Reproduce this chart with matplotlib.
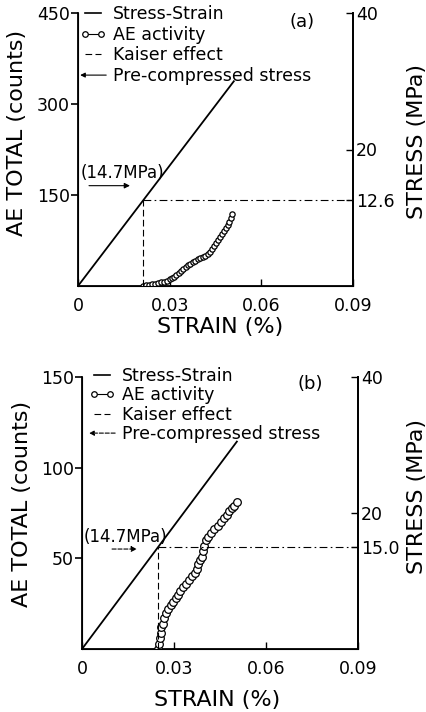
import matplotlib
matplotlib.use("Agg")
import matplotlib.pyplot as plt
from matplotlib.lines import Line2D
from matplotlib.patches import FancyArrowPatch
from matplotlib.legend_handler import HandlerBase

# ---- data ----
STRAIN_TICKS = [0, 0.03, 0.06, 0.09]
STRAIN_TICKLABELS = ["0", "0.03", "0.06", "0.09"]

# panel (a)
A_LINE_STRAIN = [0.0, 0.051]
A_LINE_STRESS = [0.0, 30.0]
A_KAISER_STRAIN = 0.0214
A_KAISER_STRESS = 12.6
A_PRE_STRESS = 14.7
A_AE_STRAIN = [0.0213, 0.0222, 0.0232, 0.0242, 0.0252, 0.0262, 0.0272, 0.0282,
               0.0292, 0.0300, 0.0308, 0.0315, 0.0322, 0.0330, 0.0338, 0.0345,
               0.0352, 0.0360, 0.0368, 0.0376, 0.0384, 0.0392, 0.0400, 0.0408,
               0.0416, 0.0424, 0.0432, 0.0438, 0.0444, 0.0451, 0.0458, 0.0465,
               0.0472, 0.0478, 0.0484, 0.0490, 0.0495, 0.0500, 0.0505]
A_AE_COUNTS = [0, 1, 2, 3, 4, 5, 6, 7,
               9, 11, 13, 15, 18, 21, 25, 28,
               31, 34, 37, 40, 42, 44, 46, 48,
               50, 52, 56, 61, 66, 71, 76, 80,
               85, 90, 95, 100, 106, 112, 118]
A_LEFT_TICKS = [150, 300, 450]
A_RIGHT_TICKS = [12.6, 20, 40]
A_RIGHT_TICKLABELS = ["12.6", "20", "40"]

# panel (b)
B_LINE_STRAIN = [0.0, 0.0505]
B_LINE_STRESS = [0.0, 30.5]
B_KAISER_STRAIN = 0.0248
B_KAISER_STRESS = 15.0
B_PRE_STRESS = 14.7
B_AE_STRAIN = [0.0249, 0.0251, 0.0253, 0.0256, 0.0259, 0.0263, 0.0268, 0.0274,
               0.0282, 0.0290, 0.0298, 0.0305, 0.0312, 0.0320, 0.0330, 0.0340,
               0.0350, 0.0360, 0.0368, 0.0374, 0.0379, 0.0384, 0.0390, 0.0395,
               0.0399, 0.0404, 0.0412, 0.0422, 0.0432, 0.0442, 0.0452, 0.0462,
               0.0472, 0.0480, 0.0488, 0.0496, 0.0504]
B_AE_COUNTS = [0, 3, 6, 9, 12, 14, 17, 20,
               22, 24, 26, 28, 30, 32, 34, 36,
               38, 40, 42, 44, 47, 49, 51, 54,
               57, 60, 62, 64, 66, 68, 70, 72,
               74, 76, 78, 79, 81]
B_LEFT_TICKS = [50, 100, 150]
B_RIGHT_TICKS = [15.0, 20, 40]
B_RIGHT_TICKLABELS = ["15.0", "20", "40"]

plt.rcParams["font.family"] = ["DejaVu Sans"]
KDASH = (0, (6, 3))
KDASHDOT = (0, (7, 3, 1.5, 3))


class HandlerArrow(HandlerBase):
    """legend 里画一个向左的细箭头"""

    def create_artists(self, legend, orig_handle, xdescent, ydescent,
                       width, height, fontsize, trans):
        y = height / 2 - ydescent
        arr = FancyArrowPatch((width - xdescent, y), (-xdescent, y),
                              arrowstyle="-|>", mutation_scale=7, lw=0.8,
                              color="black", linestyle=orig_handle.get_linestyle(),
                              shrinkA=0, shrinkB=0, transform=trans)
        return [arr]


def panel(rect, tag, ymax, left_ticks, line_x, line_y, k_x, k_y, pre_y,
          ae_x, ae_y, right_ticks, right_labels, msize, pre_text,
          text_xy, arrow_x, ylab_pos, rlab_pos, xlab_pos, arrow_ls, leg_xy, leg_sp):
    ax = fig.add_axes(rect)
    ax.set_xlim(0, 0.09)
    ax.set_ylim(0, ymax)
    ax.spines["top"].set_visible(False)
    for s in ("left", "bottom", "right"):
        ax.spines[s].set_linewidth(1.3)
    ax.set_xticks(STRAIN_TICKS)
    ax.set_xticklabels(STRAIN_TICKLABELS, fontsize=12.5)
    ax.set_yticks(left_ticks)
    ax.tick_params(axis="y", direction="out", length=5, width=1.2, labelsize=12.5, pad=1)
    ax.tick_params(axis="x", direction="in", length=5, width=1.0, pad=8)
    ax.plot(ae_x, ae_y, "-o", color="black", lw=0.8, ms=msize, mfc="white",
            mec="black", mew=0.9, zorder=4)

    tw = ax.twinx()
    tw.set_ylim(0, 40)
    tw.spines["top"].set_visible(False)
    tw.spines["right"].set_linewidth(1.3)
    tw.set_yticks(right_ticks)
    tw.set_yticklabels(right_labels, fontsize=12.5)
    tw.tick_params(axis="y", direction="in", length=5, width=1.0, pad=2)
    tw.plot(line_x, line_y, color="black", lw=1.3)
    tw.plot([k_x, k_x], [0, k_y], color="black", lw=0.8, ls=KDASH)
    tw.plot([k_x, 0.09], [k_y, k_y], color="black", lw=0.8, ls=KDASHDOT)
    tw.annotate("", xy=(arrow_x[1], pre_y), xytext=(arrow_x[0], pre_y),
                arrowprops=dict(arrowstyle="-|>", color="black", lw=0.8,
                                ls=arrow_ls, mutation_scale=8,
                                shrinkA=0, shrinkB=0))
    ax.text(text_xy[0], text_xy[1], pre_text, transform=ax.transAxes,
            fontsize=12, ha="left", va="center")

    ax.text(tag[1][0], tag[1][1], tag[0], transform=ax.transAxes,
            fontsize=13, ha="center", va="center")
    ax.text(ylab_pos[0], ylab_pos[1], "AE TOTAL (counts)", transform=ax.transAxes,
            rotation=90, fontsize=16, ha="center", va="center")
    ax.text(rlab_pos[0], rlab_pos[1], "STRESS (MPa)", transform=ax.transAxes,
            rotation=90, fontsize=16, ha="center", va="center")
    ax.text(xlab_pos[0], xlab_pos[1], "STRAIN (%)", transform=ax.transAxes,
            fontsize=16, ha="center", va="center")

    arrow_proxy = FancyArrowPatch((0, 0), (1, 0), linestyle=arrow_ls)
    handles = [
        Line2D([], [], color="black", lw=1.2),
        Line2D([], [], color="black", lw=0.8, marker="o", ms=4,
               mfc="white", mec="black", mew=0.9),
        Line2D([], [], color="black", lw=0.8, ls=KDASH),
        arrow_proxy,
    ]
    labels = ["Stress-Strain", "AE activity", "Kaiser effect", "Pre-compressed stress"]
    ax.legend(handles, labels, loc="upper left", bbox_to_anchor=leg_xy,
              frameon=False, fontsize=12.5, numpoints=2, handlelength=1.5,
              handletextpad=0.4, labelspacing=leg_sp, borderaxespad=0.2,
              handler_map={FancyArrowPatch: HandlerArrow()})
    return ax


fig = plt.figure(figsize=(4.26, 7.12), dpi=100)

panel([78 / 426, (712 - 286) / 712, 275 / 426, 273 / 712], ("(a)", (0.815, 0.967)),
      450, A_LEFT_TICKS, A_LINE_STRAIN, A_LINE_STRESS, A_KAISER_STRAIN,
      A_KAISER_STRESS, A_PRE_STRESS, A_AE_STRAIN, A_AE_COUNTS, A_RIGHT_TICKS,
      A_RIGHT_TICKLABELS, 3.8, "(14.7MPa)", (0.01, 0.415), (0.0036, 0.017),
      (-0.222, 0.56), (1.233, 0.531), (0.516, -0.15), "-", (-0.03, 1.068), 0.16)

panel([82 / 426, (712 - 649) / 712, 276 / 426, 272 / 712], ("(b)", (0.826, 0.975)),
      150, B_LEFT_TICKS, B_LINE_STRAIN, B_LINE_STRESS, B_KAISER_STRAIN,
      B_KAISER_STRESS, B_PRE_STRESS, B_AE_STRAIN, B_AE_COUNTS, B_RIGHT_TICKS,
      B_RIGHT_TICKLABELS, 5.5, "(14.7MPa)", (0.005, 0.412), (0.0098, 0.0179),
      (-0.217, 0.533), (1.214, 0.559), (0.49, -0.1875), "--", (-0.012, 1.075), 0.08)

fig.savefig("out.png", dpi=100)
